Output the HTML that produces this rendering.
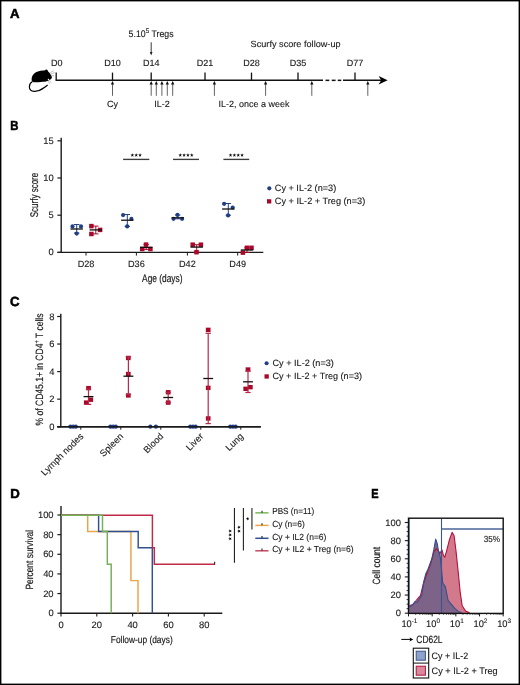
<!DOCTYPE html><html><head><meta charset="utf-8"><style>html,body{margin:0;padding:0;background:#fff;}svg{display:block;will-change:transform;text-rendering:geometricPrecision;}text{font-family:"Liberation Sans",sans-serif;}</style></head><body>
<svg width="520" height="685" viewBox="0 0 520 685">
<rect x="0" y="0" width="520" height="685" fill="#fff"/>
<rect x="0.7" y="0.7" width="518.6" height="683.6" fill="none" stroke="#000" stroke-width="1.4"/>
<text x="10.00" y="18.10" font-size="13.2" text-anchor="start" fill="#000" font-weight="bold" stroke="#000" stroke-width="0.55">A</text>
<text x="10.30" y="130.30" font-size="13.2" text-anchor="start" fill="#000" font-weight="bold" textLength="8.2" lengthAdjust="spacingAndGlyphs" stroke="#000" stroke-width="0.55">B</text>
<text x="10.00" y="306.40" font-size="13.2" text-anchor="start" fill="#000" font-weight="bold" stroke="#000" stroke-width="0.55">C</text>
<text x="10.20" y="498.40" font-size="13.2" text-anchor="start" fill="#000" font-weight="bold" stroke="#000" stroke-width="0.55">D</text>
<text x="371.20" y="498.40" font-size="13.2" text-anchor="start" fill="#000" font-weight="bold" textLength="7.3" lengthAdjust="spacingAndGlyphs" stroke="#000" stroke-width="0.55">E</text>
<path d="M31.7,80.6 C31.3,77.5 32.3,75.2 34.2,73.5 C36.2,71.8 39.2,70.8 43.2,70.6 C44,70.5 44.6,70.4 45,70.2 C45.4,69.6 46.5,69.4 47.3,69.9 C47.9,70.3 48.1,70.9 48.1,71.4 C49.6,72.6 51,74.5 51.8,76.8 C52.2,77.8 51.6,78.8 50.7,79.3 C49.8,79.9 48.6,80.6 47.5,81.1 C45.5,81.8 43.5,81.9 41,82.1 C38.5,82.3 35.5,82.4 33.8,82.3 C32.6,82.2 31.9,81.6 31.7,80.6 Z" fill="#000"/>
<path d="M32.2,81.7 C30.6,82.6 29.4,84.6 29.4,86.9 C29.4,89.3 31.3,91.1 34.2,91.3 C37.8,91.5 41.3,89.9 44.3,87.6 C45.5,86.7 46.6,85.8 47.6,85" fill="none" stroke="#000" stroke-width="1.2"/>
<circle cx="48.5" cy="79.4" r="0.75" fill="#fff"/>
<path d="M50.3,72.6 L53.8,70.6 M50.9,73.8 L54.6,72.6 M51.4,75.6 L54.2,75.8 M49.2,80.6 L51.6,82.9 M48.1,81.2 L49.6,83.6" stroke="#8a8a8a" stroke-width="0.55" fill="none"/>
<line x1="55.60" y1="80.35" x2="323.00" y2="80.35" stroke="#111" stroke-width="1.5" />
<line x1="325.50" y1="80.35" x2="329.30" y2="80.35" stroke="#111" stroke-width="1.5" />
<line x1="331.70" y1="80.35" x2="335.60" y2="80.35" stroke="#111" stroke-width="1.5" />
<line x1="337.70" y1="80.35" x2="341.30" y2="80.35" stroke="#111" stroke-width="1.5" />
<line x1="343.00" y1="80.35" x2="382.00" y2="80.35" stroke="#111" stroke-width="1.5" />
<path d="M387.6,80.35 L378.6,76.1 L381.2,80.35 L378.6,84.6 Z" fill="#000"/>
<line x1="56.20" y1="72.60" x2="56.20" y2="80.30" stroke="#111" stroke-width="1.3" />
<text x="56.80" y="66.30" font-size="9" text-anchor="middle" fill="#1a1a1a" stroke="#1a1a1a" stroke-width="0.12">D0</text>
<line x1="112.50" y1="72.60" x2="112.50" y2="80.30" stroke="#111" stroke-width="1.3" />
<text x="112.50" y="66.30" font-size="9" text-anchor="middle" fill="#1a1a1a" stroke="#1a1a1a" stroke-width="0.12">D10</text>
<line x1="151.20" y1="72.60" x2="151.20" y2="80.30" stroke="#111" stroke-width="1.3" />
<text x="151.20" y="66.30" font-size="9" text-anchor="middle" fill="#1a1a1a" stroke="#1a1a1a" stroke-width="0.12">D14</text>
<line x1="205.00" y1="72.60" x2="205.00" y2="80.30" stroke="#111" stroke-width="1.3" />
<text x="205.00" y="66.30" font-size="9" text-anchor="middle" fill="#1a1a1a" stroke="#1a1a1a" stroke-width="0.12">D21</text>
<line x1="251.50" y1="72.60" x2="251.50" y2="80.30" stroke="#111" stroke-width="1.3" />
<text x="251.50" y="66.30" font-size="9" text-anchor="middle" fill="#1a1a1a" stroke="#1a1a1a" stroke-width="0.12">D28</text>
<line x1="298.00" y1="72.60" x2="298.00" y2="80.30" stroke="#111" stroke-width="1.3" />
<text x="298.00" y="66.30" font-size="9" text-anchor="middle" fill="#1a1a1a" stroke="#1a1a1a" stroke-width="0.12">D35</text>
<line x1="355.00" y1="72.60" x2="355.00" y2="80.30" stroke="#111" stroke-width="1.3" />
<text x="355.00" y="66.30" font-size="9" text-anchor="middle" fill="#1a1a1a" stroke="#1a1a1a" stroke-width="0.12">D77</text>
<line x1="112.50" y1="83.50" x2="112.50" y2="95.80" stroke="#5a5a5a" stroke-width="0.95" />
<path d="M112.5,81.1 L110.85,84.4 L114.15,84.4 Z" fill="#111"/>
<line x1="151.20" y1="83.50" x2="151.20" y2="95.80" stroke="#5a5a5a" stroke-width="0.95" />
<path d="M151.2,81.1 L149.54999999999998,84.4 L152.85,84.4 Z" fill="#111"/>
<line x1="156.30" y1="83.50" x2="156.30" y2="95.80" stroke="#5a5a5a" stroke-width="0.95" />
<path d="M156.3,81.1 L154.65,84.4 L157.95000000000002,84.4 Z" fill="#111"/>
<line x1="161.90" y1="83.50" x2="161.90" y2="95.80" stroke="#5a5a5a" stroke-width="0.95" />
<path d="M161.9,81.1 L160.25,84.4 L163.55,84.4 Z" fill="#111"/>
<line x1="167.30" y1="83.50" x2="167.30" y2="95.80" stroke="#5a5a5a" stroke-width="0.95" />
<path d="M167.3,81.1 L165.65,84.4 L168.95000000000002,84.4 Z" fill="#111"/>
<line x1="172.70" y1="83.50" x2="172.70" y2="95.80" stroke="#5a5a5a" stroke-width="0.95" />
<path d="M172.7,81.1 L171.04999999999998,84.4 L174.35,84.4 Z" fill="#111"/>
<line x1="214.40" y1="83.50" x2="214.40" y2="95.80" stroke="#5a5a5a" stroke-width="0.95" />
<path d="M214.4,81.1 L212.75,84.4 L216.05,84.4 Z" fill="#111"/>
<line x1="265.60" y1="83.50" x2="265.60" y2="95.80" stroke="#5a5a5a" stroke-width="0.95" />
<path d="M265.6,81.1 L263.95000000000005,84.4 L267.25,84.4 Z" fill="#111"/>
<line x1="311.80" y1="83.50" x2="311.80" y2="95.80" stroke="#5a5a5a" stroke-width="0.95" />
<path d="M311.8,81.1 L310.15000000000003,84.4 L313.45,84.4 Z" fill="#111"/>
<line x1="367.80" y1="83.50" x2="367.80" y2="95.80" stroke="#5a5a5a" stroke-width="0.95" />
<path d="M367.8,81.1 L366.15000000000003,84.4 L369.45,84.4 Z" fill="#111"/>
<text x="112.60" y="107.00" font-size="9" text-anchor="middle" fill="#1a1a1a" stroke="#1a1a1a" stroke-width="0.12">Cy</text>
<text x="162.00" y="107.00" font-size="9" text-anchor="middle" fill="#1a1a1a" stroke="#1a1a1a" stroke-width="0.12">IL-2</text>
<text x="218.60" y="107.10" font-size="9" text-anchor="start" fill="#1a1a1a" textLength="70.8" lengthAdjust="spacingAndGlyphs" stroke="#1a1a1a" stroke-width="0.12">IL-2, once a week</text>
<text x="0" y="0" font-size="9.5" fill="#1a1a1a" stroke="#1a1a1a" stroke-width="0.12" transform="translate(128.6 36.5) scale(0.95 1)" textLength="47.3" lengthAdjust="spacingAndGlyphs">5.10<tspan font-size="6.8" dy="-3.9">5</tspan><tspan dy="3.9"> Tregs</tspan></text>
<line x1="151.20" y1="42.30" x2="151.20" y2="54.00" stroke="#222" stroke-width="0.9" />
<path d="M151.2,55.4 L149.9,52 L152.5,52 Z" fill="#222"/>
<text x="250.60" y="46.80" font-size="9" text-anchor="start" fill="#1a1a1a" textLength="90" lengthAdjust="spacingAndGlyphs" stroke="#1a1a1a" stroke-width="0.12">Scurfy score follow-up</text>
<line x1="61.20" y1="137.70" x2="61.20" y2="253.00" stroke="#1a1a1a" stroke-width="1.4" />
<line x1="57.40" y1="252.40" x2="61.20" y2="252.40" stroke="#1a1a1a" stroke-width="1.2" />
<text x="53.80" y="255.40" font-size="9.4" text-anchor="end" fill="#1a1a1a" stroke="#1a1a1a" stroke-width="0.12">0</text>
<line x1="57.40" y1="215.20" x2="61.20" y2="215.20" stroke="#1a1a1a" stroke-width="1.2" />
<text x="53.80" y="218.20" font-size="9.4" text-anchor="end" fill="#1a1a1a" stroke="#1a1a1a" stroke-width="0.12">5</text>
<line x1="57.40" y1="178.00" x2="61.20" y2="178.00" stroke="#1a1a1a" stroke-width="1.2" />
<text x="53.80" y="181.00" font-size="9.4" text-anchor="end" fill="#1a1a1a" stroke="#1a1a1a" stroke-width="0.12">10</text>
<line x1="57.40" y1="140.80" x2="61.20" y2="140.80" stroke="#1a1a1a" stroke-width="1.2" />
<text x="53.80" y="143.80" font-size="9.4" text-anchor="end" fill="#1a1a1a" stroke="#1a1a1a" stroke-width="0.12">15</text>
<line x1="57.40" y1="252.40" x2="263.30" y2="252.40" stroke="#1a1a1a" stroke-width="1.4" />
<line x1="86.00" y1="252.40" x2="86.00" y2="255.60" stroke="#1a1a1a" stroke-width="1.0" />
<text x="86.00" y="267.00" font-size="9.1" text-anchor="middle" fill="#1a1a1a" stroke="#1a1a1a" stroke-width="0.12">D28</text>
<line x1="136.40" y1="252.40" x2="136.40" y2="255.60" stroke="#1a1a1a" stroke-width="1.0" />
<text x="136.40" y="267.00" font-size="9.1" text-anchor="middle" fill="#1a1a1a" stroke="#1a1a1a" stroke-width="0.12">D36</text>
<line x1="187.40" y1="252.40" x2="187.40" y2="255.60" stroke="#1a1a1a" stroke-width="1.0" />
<text x="187.40" y="267.00" font-size="9.1" text-anchor="middle" fill="#1a1a1a" stroke="#1a1a1a" stroke-width="0.12">D42</text>
<line x1="237.70" y1="252.40" x2="237.70" y2="255.60" stroke="#1a1a1a" stroke-width="1.0" />
<text x="237.70" y="267.00" font-size="9.1" text-anchor="middle" fill="#1a1a1a" stroke="#1a1a1a" stroke-width="0.12">D49</text>
<text x="162.30" y="281.90" font-size="11" text-anchor="middle" fill="#1a1a1a" textLength="40.4" lengthAdjust="spacingAndGlyphs" stroke="#1a1a1a" stroke-width="0.18">Age (days)</text>
<text x="37.80" y="195.00" font-size="11" text-anchor="middle" fill="#1a1a1a" textLength="44.4" lengthAdjust="spacingAndGlyphs" transform="rotate(-90 37.8 195)" stroke="#1a1a1a" stroke-width="0.18">Scurfy score</text>
<line x1="123.10" y1="159.40" x2="149.30" y2="159.40" stroke="#3a3a3a" stroke-width="1.35" />
<polygon points="132.35,153.15 132.85,154.41 134.20,154.50 133.16,155.36 133.50,156.68 132.35,155.95 131.20,156.68 131.54,155.36 130.50,154.50 131.85,154.41" fill="#111"/>
<polygon points="136.20,153.15 136.70,154.41 138.05,154.50 137.01,155.36 137.35,156.68 136.20,155.95 135.05,156.68 135.39,155.36 134.35,154.50 135.70,154.41" fill="#111"/>
<polygon points="140.05,153.15 140.55,154.41 141.90,154.50 140.86,155.36 141.20,156.68 140.05,155.95 138.90,156.68 139.24,155.36 138.20,154.50 139.55,154.41" fill="#111"/>
<line x1="173.00" y1="159.40" x2="199.00" y2="159.40" stroke="#3a3a3a" stroke-width="1.35" />
<polygon points="180.22,153.15 180.72,154.41 182.08,154.50 181.03,155.36 181.37,156.68 180.22,155.95 179.08,156.68 179.42,155.36 178.37,154.50 179.73,154.41" fill="#111"/>
<polygon points="184.07,153.15 184.57,154.41 185.93,154.50 184.88,155.36 185.22,156.68 184.07,155.95 182.93,156.68 183.27,155.36 182.22,154.50 183.58,154.41" fill="#111"/>
<polygon points="187.93,153.15 188.42,154.41 189.78,154.50 188.73,155.36 189.07,156.68 187.93,155.95 186.78,156.68 187.12,155.36 186.07,154.50 187.43,154.41" fill="#111"/>
<polygon points="191.78,153.15 192.27,154.41 193.63,154.50 192.58,155.36 192.92,156.68 191.78,155.95 190.63,156.68 190.97,155.36 189.92,154.50 191.28,154.41" fill="#111"/>
<line x1="223.40" y1="159.40" x2="249.20" y2="159.40" stroke="#3a3a3a" stroke-width="1.35" />
<polygon points="230.53,153.15 231.02,154.41 232.38,154.50 231.33,155.36 231.67,156.68 230.53,155.95 229.38,156.68 229.72,155.36 228.67,154.50 230.03,154.41" fill="#111"/>
<polygon points="234.38,153.15 234.87,154.41 236.23,154.50 235.18,155.36 235.52,156.68 234.38,155.95 233.23,156.68 233.57,155.36 232.52,154.50 233.88,154.41" fill="#111"/>
<polygon points="238.23,153.15 238.72,154.41 240.08,154.50 239.03,155.36 239.37,156.68 238.23,155.95 237.08,156.68 237.42,155.36 236.37,154.50 237.73,154.41" fill="#111"/>
<polygon points="242.08,153.15 242.57,154.41 243.93,154.50 242.88,155.36 243.22,156.68 242.08,155.95 240.93,156.68 241.27,155.36 240.22,154.50 241.58,154.41" fill="#111"/>
<circle cx="72.50" cy="226.40" r="2.1" fill="#213f86"/>
<circle cx="81.00" cy="226.40" r="2.1" fill="#213f86"/>
<circle cx="76.70" cy="233.60" r="2.1" fill="#213f86"/>
<rect x="89.15" y="223.85" width="4.5" height="4.5" fill="#a8082a"/>
<rect x="89.15" y="231.75" width="4.5" height="4.5" fill="#a8082a"/>
<rect x="97.85" y="227.65" width="4.5" height="4.5" fill="#a8082a"/>
<circle cx="123.10" cy="215.10" r="2.1" fill="#213f86"/>
<circle cx="131.40" cy="218.90" r="2.1" fill="#213f86"/>
<circle cx="127.20" cy="226.40" r="2.1" fill="#213f86"/>
<rect x="143.75" y="242.35" width="4.5" height="4.5" fill="#a8082a"/>
<rect x="139.95" y="246.75" width="4.5" height="4.5" fill="#a8082a"/>
<rect x="148.15" y="246.75" width="4.5" height="4.5" fill="#a8082a"/>
<circle cx="173.50" cy="218.80" r="2.1" fill="#213f86"/>
<circle cx="182.10" cy="218.80" r="2.1" fill="#213f86"/>
<circle cx="177.50" cy="214.90" r="2.1" fill="#213f86"/>
<rect x="190.45" y="242.45" width="4.5" height="4.5" fill="#a8082a"/>
<rect x="198.65" y="242.45" width="4.5" height="4.5" fill="#a8082a"/>
<rect x="194.25" y="249.95" width="4.5" height="4.5" fill="#a8082a"/>
<circle cx="224.10" cy="203.80" r="2.1" fill="#213f86"/>
<circle cx="232.70" cy="207.50" r="2.1" fill="#213f86"/>
<circle cx="228.10" cy="215.40" r="2.1" fill="#213f86"/>
<rect x="240.65" y="250.35" width="4.5" height="4.5" fill="#a8082a"/>
<rect x="244.65" y="245.55" width="4.5" height="4.5" fill="#a8082a"/>
<rect x="249.25" y="245.55" width="4.5" height="4.5" fill="#a8082a"/>
<line x1="76.70" y1="224.50" x2="76.70" y2="233.00" stroke="#213f86" stroke-width="1.0" />
<line x1="74.00" y1="224.50" x2="79.40" y2="224.50" stroke="#213f86" stroke-width="1.0" />
<line x1="74.00" y1="233.00" x2="79.40" y2="233.00" stroke="#213f86" stroke-width="1.0" />
<line x1="70.50" y1="229.00" x2="82.90" y2="229.00" stroke="#111" stroke-width="1.3" />
<line x1="95.80" y1="226.10" x2="95.80" y2="233.90" stroke="#a8082a" stroke-width="1.0" />
<line x1="93.10" y1="226.10" x2="98.50" y2="226.10" stroke="#a8082a" stroke-width="1.0" />
<line x1="93.10" y1="233.90" x2="98.50" y2="233.90" stroke="#a8082a" stroke-width="1.0" />
<line x1="89.60" y1="229.90" x2="102.00" y2="229.90" stroke="#111" stroke-width="1.3" />
<line x1="127.30" y1="214.50" x2="127.30" y2="226.30" stroke="#213f86" stroke-width="1.0" />
<line x1="124.60" y1="214.50" x2="130.00" y2="214.50" stroke="#213f86" stroke-width="1.0" />
<line x1="124.60" y1="226.30" x2="130.00" y2="226.30" stroke="#213f86" stroke-width="1.0" />
<line x1="121.10" y1="220.20" x2="133.50" y2="220.20" stroke="#111" stroke-width="1.3" />
<line x1="146.20" y1="244.60" x2="146.20" y2="249.40" stroke="#a8082a" stroke-width="1.0" />
<line x1="143.50" y1="244.60" x2="148.90" y2="244.60" stroke="#a8082a" stroke-width="1.0" />
<line x1="143.50" y1="249.40" x2="148.90" y2="249.40" stroke="#a8082a" stroke-width="1.0" />
<line x1="140.00" y1="247.40" x2="152.40" y2="247.40" stroke="#111" stroke-width="1.3" />
<line x1="177.70" y1="215.00" x2="177.70" y2="218.80" stroke="#213f86" stroke-width="1.0" />
<line x1="175.00" y1="215.00" x2="180.40" y2="215.00" stroke="#213f86" stroke-width="1.0" />
<line x1="175.00" y1="218.80" x2="180.40" y2="218.80" stroke="#213f86" stroke-width="1.0" />
<line x1="171.50" y1="217.80" x2="183.90" y2="217.80" stroke="#111" stroke-width="1.3" />
<line x1="196.70" y1="244.70" x2="196.70" y2="252.00" stroke="#a8082a" stroke-width="1.0" />
<line x1="194.00" y1="244.70" x2="199.40" y2="244.70" stroke="#a8082a" stroke-width="1.0" />
<line x1="194.00" y1="252.00" x2="199.40" y2="252.00" stroke="#a8082a" stroke-width="1.0" />
<line x1="190.50" y1="247.10" x2="202.90" y2="247.10" stroke="#111" stroke-width="1.3" />
<line x1="228.30" y1="203.50" x2="228.30" y2="215.20" stroke="#213f86" stroke-width="1.0" />
<line x1="225.60" y1="203.50" x2="231.00" y2="203.50" stroke="#213f86" stroke-width="1.0" />
<line x1="225.60" y1="215.20" x2="231.00" y2="215.20" stroke="#213f86" stroke-width="1.0" />
<line x1="222.10" y1="209.00" x2="234.50" y2="209.00" stroke="#111" stroke-width="1.3" />
<line x1="247.00" y1="247.80" x2="247.00" y2="252.40" stroke="#a8082a" stroke-width="1.0" />
<line x1="244.30" y1="247.80" x2="249.70" y2="247.80" stroke="#a8082a" stroke-width="1.0" />
<line x1="244.30" y1="252.40" x2="249.70" y2="252.40" stroke="#a8082a" stroke-width="1.0" />
<line x1="240.80" y1="250.00" x2="253.20" y2="250.00" stroke="#111" stroke-width="1.3" />
<circle cx="269.30" cy="188.35" r="2.05" fill="#213f86"/>
<text x="274.80" y="190.90" font-size="9.1" text-anchor="start" fill="#1a1a1a" textLength="61.4" lengthAdjust="spacingAndGlyphs" stroke="#1a1a1a" stroke-width="0.12">Cy + IL-2 (n=3)</text>
<rect x="267.00" y="199.20" width="4.3" height="4.3" fill="#a8082a"/>
<text x="274.80" y="204.10" font-size="9.1" text-anchor="start" fill="#1a1a1a" textLength="90.4" lengthAdjust="spacingAndGlyphs" stroke="#1a1a1a" stroke-width="0.12">Cy + IL-2 + Treg (n=3)</text>
<line x1="60.80" y1="313.70" x2="60.80" y2="427.30" stroke="#1a1a1a" stroke-width="1.4" />
<line x1="57.20" y1="426.70" x2="60.80" y2="426.70" stroke="#1a1a1a" stroke-width="1.2" />
<text x="54.40" y="429.70" font-size="9.4" text-anchor="end" fill="#1a1a1a" stroke="#1a1a1a" stroke-width="0.12">0</text>
<line x1="57.20" y1="399.15" x2="60.80" y2="399.15" stroke="#1a1a1a" stroke-width="1.2" />
<text x="54.40" y="402.15" font-size="9.4" text-anchor="end" fill="#1a1a1a" stroke="#1a1a1a" stroke-width="0.12">2</text>
<line x1="57.20" y1="371.60" x2="60.80" y2="371.60" stroke="#1a1a1a" stroke-width="1.2" />
<text x="54.40" y="374.60" font-size="9.4" text-anchor="end" fill="#1a1a1a" stroke="#1a1a1a" stroke-width="0.12">4</text>
<line x1="57.20" y1="344.05" x2="60.80" y2="344.05" stroke="#1a1a1a" stroke-width="1.2" />
<text x="54.40" y="347.05" font-size="9.4" text-anchor="end" fill="#1a1a1a" stroke="#1a1a1a" stroke-width="0.12">6</text>
<line x1="57.20" y1="316.50" x2="60.80" y2="316.50" stroke="#1a1a1a" stroke-width="1.2" />
<text x="54.40" y="319.50" font-size="9.4" text-anchor="end" fill="#1a1a1a" stroke="#1a1a1a" stroke-width="0.12">8</text>
<line x1="57.20" y1="426.70" x2="260.80" y2="426.70" stroke="#1a1a1a" stroke-width="1.4" />
<line x1="80.80" y1="426.70" x2="80.80" y2="429.70" stroke="#1a1a1a" stroke-width="1.0" />
<text x="84.00" y="436.90" font-size="9.3" text-anchor="end" fill="#1a1a1a" transform="rotate(-45 84.0 436.9)" stroke="#1a1a1a" stroke-width="0.12">Lymph nodes</text>
<line x1="120.80" y1="426.70" x2="120.80" y2="429.70" stroke="#1a1a1a" stroke-width="1.0" />
<text x="124.00" y="436.90" font-size="9.3" text-anchor="end" fill="#1a1a1a" transform="rotate(-45 124.0 436.9)" stroke="#1a1a1a" stroke-width="0.12">Spleen</text>
<line x1="160.80" y1="426.70" x2="160.80" y2="429.70" stroke="#1a1a1a" stroke-width="1.0" />
<text x="164.00" y="436.90" font-size="9.3" text-anchor="end" fill="#1a1a1a" transform="rotate(-45 164.0 436.9)" stroke="#1a1a1a" stroke-width="0.12">Blood</text>
<line x1="200.80" y1="426.70" x2="200.80" y2="429.70" stroke="#1a1a1a" stroke-width="1.0" />
<text x="204.00" y="436.90" font-size="9.3" text-anchor="end" fill="#1a1a1a" transform="rotate(-45 204.0 436.9)" stroke="#1a1a1a" stroke-width="0.12">Liver</text>
<line x1="240.80" y1="426.70" x2="240.80" y2="429.70" stroke="#1a1a1a" stroke-width="1.0" />
<text x="244.00" y="436.90" font-size="9.3" text-anchor="end" fill="#1a1a1a" transform="rotate(-45 244.0 436.9)" stroke="#1a1a1a" stroke-width="0.12">Lung</text>
<text x="0" y="0" font-size="10.6" fill="#1a1a1a" stroke="#1a1a1a" stroke-width="0.18" text-anchor="middle" transform="translate(42.8 369.5) rotate(-90)" textLength="112" lengthAdjust="spacingAndGlyphs">% of CD45.1+ in CD4<tspan font-size="7" dy="-3.5">+</tspan><tspan dy="3.5"> T cells</tspan></text>
<circle cx="70.40" cy="426.70" r="2.1" fill="#213f86"/>
<circle cx="73.10" cy="426.70" r="2.1" fill="#213f86"/>
<circle cx="75.80" cy="426.70" r="2.1" fill="#213f86"/>
<circle cx="110.40" cy="426.70" r="2.1" fill="#213f86"/>
<circle cx="113.10" cy="426.70" r="2.1" fill="#213f86"/>
<circle cx="115.80" cy="426.70" r="2.1" fill="#213f86"/>
<circle cx="190.20" cy="426.70" r="2.1" fill="#213f86"/>
<circle cx="192.90" cy="426.70" r="2.1" fill="#213f86"/>
<circle cx="195.60" cy="426.70" r="2.1" fill="#213f86"/>
<circle cx="230.20" cy="426.70" r="2.1" fill="#213f86"/>
<circle cx="232.90" cy="426.70" r="2.1" fill="#213f86"/>
<circle cx="235.60" cy="426.70" r="2.1" fill="#213f86"/>
<circle cx="150.30" cy="426.70" r="2.1" fill="#213f86"/>
<circle cx="155.90" cy="426.70" r="2.1" fill="#213f86"/>
<line x1="57.20" y1="426.70" x2="260.80" y2="426.70" stroke="#1a1a1a" stroke-width="1.4" />
<rect x="86.20" y="385.93" width="4.7" height="4.4" fill="#a8082a"/>
<rect x="88.40" y="397.50" width="4.7" height="4.4" fill="#a8082a"/>
<rect x="83.90" y="400.39" width="4.7" height="4.4" fill="#a8082a"/>
<rect x="125.95" y="355.76" width="4.7" height="4.4" fill="#a8082a"/>
<rect x="125.95" y="371.88" width="4.7" height="4.4" fill="#a8082a"/>
<rect x="125.95" y="393.23" width="4.7" height="4.4" fill="#a8082a"/>
<rect x="165.85" y="390.06" width="4.7" height="4.4" fill="#a8082a"/>
<rect x="165.85" y="400.39" width="4.7" height="4.4" fill="#a8082a"/>
<rect x="205.85" y="327.66" width="4.7" height="4.4" fill="#a8082a"/>
<rect x="205.85" y="385.65" width="4.7" height="4.4" fill="#a8082a"/>
<rect x="205.85" y="416.24" width="4.7" height="4.4" fill="#a8082a"/>
<rect x="245.65" y="367.33" width="4.7" height="4.4" fill="#a8082a"/>
<rect x="248.00" y="384.97" width="4.7" height="4.4" fill="#a8082a"/>
<rect x="243.35" y="386.62" width="4.7" height="4.4" fill="#a8082a"/>
<line x1="88.50" y1="389.23" x2="88.50" y2="404.38" stroke="#b9294a" stroke-width="1.2" />
<line x1="85.80" y1="389.23" x2="91.20" y2="389.23" stroke="#b9294a" stroke-width="1.2" />
<line x1="85.80" y1="404.38" x2="91.20" y2="404.38" stroke="#b9294a" stroke-width="1.2" />
<line x1="83.55" y1="396.60" x2="93.45" y2="396.60" stroke="#111" stroke-width="1.3" />
<line x1="128.40" y1="356.86" x2="128.40" y2="394.60" stroke="#b9294a" stroke-width="1.2" />
<line x1="125.70" y1="356.86" x2="131.10" y2="356.86" stroke="#b9294a" stroke-width="1.2" />
<line x1="125.70" y1="394.60" x2="131.10" y2="394.60" stroke="#b9294a" stroke-width="1.2" />
<line x1="123.45" y1="376.20" x2="133.35" y2="376.20" stroke="#111" stroke-width="1.3" />
<line x1="168.20" y1="392.26" x2="168.20" y2="402.59" stroke="#b9294a" stroke-width="1.2" />
<line x1="165.50" y1="392.26" x2="170.90" y2="392.26" stroke="#b9294a" stroke-width="1.2" />
<line x1="165.50" y1="402.59" x2="170.90" y2="402.59" stroke="#b9294a" stroke-width="1.2" />
<line x1="163.25" y1="397.50" x2="173.15" y2="397.50" stroke="#111" stroke-width="1.3" />
<line x1="208.20" y1="333.31" x2="208.20" y2="423.60" stroke="#b9294a" stroke-width="1.2" />
<line x1="205.50" y1="333.31" x2="210.90" y2="333.31" stroke="#b9294a" stroke-width="1.2" />
<line x1="205.50" y1="423.60" x2="210.90" y2="423.60" stroke="#b9294a" stroke-width="1.2" />
<line x1="203.25" y1="378.50" x2="213.15" y2="378.50" stroke="#111" stroke-width="1.3" />
<line x1="248.00" y1="370.91" x2="248.00" y2="392.50" stroke="#b9294a" stroke-width="1.2" />
<line x1="245.30" y1="370.91" x2="250.70" y2="370.91" stroke="#b9294a" stroke-width="1.2" />
<line x1="245.30" y1="392.50" x2="250.70" y2="392.50" stroke="#b9294a" stroke-width="1.2" />
<line x1="243.05" y1="381.80" x2="252.95" y2="381.80" stroke="#111" stroke-width="1.3" />
<circle cx="266.60" cy="363.30" r="2.05" fill="#213f86"/>
<text x="272.50" y="366.10" font-size="9.1" text-anchor="start" fill="#1a1a1a" textLength="61.4" lengthAdjust="spacingAndGlyphs" stroke="#1a1a1a" stroke-width="0.12">Cy + IL-2 (n=3)</text>
<rect x="264.50" y="374.30" width="4.3" height="4.3" fill="#a8082a"/>
<text x="272.50" y="379.40" font-size="9.1" text-anchor="start" fill="#1a1a1a" textLength="89.5" lengthAdjust="spacingAndGlyphs" stroke="#1a1a1a" stroke-width="0.12">Cy + IL-2 + Treg (n=3)</text>
<line x1="61.00" y1="506.00" x2="61.00" y2="613.80" stroke="#1a1a1a" stroke-width="1.4" />
<line x1="57.40" y1="613.20" x2="61.00" y2="613.20" stroke="#1a1a1a" stroke-width="1.2" />
<text x="53.60" y="616.20" font-size="9.4" text-anchor="end" fill="#1a1a1a" stroke="#1a1a1a" stroke-width="0.12">0</text>
<line x1="57.40" y1="593.56" x2="61.00" y2="593.56" stroke="#1a1a1a" stroke-width="1.2" />
<text x="53.60" y="596.56" font-size="9.4" text-anchor="end" fill="#1a1a1a" stroke="#1a1a1a" stroke-width="0.12">20</text>
<line x1="57.40" y1="573.92" x2="61.00" y2="573.92" stroke="#1a1a1a" stroke-width="1.2" />
<text x="53.60" y="576.92" font-size="9.4" text-anchor="end" fill="#1a1a1a" stroke="#1a1a1a" stroke-width="0.12">40</text>
<line x1="57.40" y1="554.28" x2="61.00" y2="554.28" stroke="#1a1a1a" stroke-width="1.2" />
<text x="53.60" y="557.28" font-size="9.4" text-anchor="end" fill="#1a1a1a" stroke="#1a1a1a" stroke-width="0.12">60</text>
<line x1="57.40" y1="534.64" x2="61.00" y2="534.64" stroke="#1a1a1a" stroke-width="1.2" />
<text x="53.60" y="537.64" font-size="9.4" text-anchor="end" fill="#1a1a1a" stroke="#1a1a1a" stroke-width="0.12">80</text>
<line x1="57.40" y1="515.00" x2="61.00" y2="515.00" stroke="#1a1a1a" stroke-width="1.2" />
<text x="53.60" y="518.00" font-size="9.4" text-anchor="end" fill="#1a1a1a" stroke="#1a1a1a" stroke-width="0.12">100</text>
<line x1="60.40" y1="613.20" x2="222.30" y2="613.20" stroke="#1a1a1a" stroke-width="1.4" />
<line x1="61.00" y1="613.20" x2="61.00" y2="616.40" stroke="#1a1a1a" stroke-width="1.1" />
<text x="61.00" y="627.70" font-size="9.4" text-anchor="middle" fill="#1a1a1a" stroke="#1a1a1a" stroke-width="0.12">0</text>
<line x1="96.80" y1="613.20" x2="96.80" y2="616.40" stroke="#1a1a1a" stroke-width="1.1" />
<text x="96.80" y="627.70" font-size="9.4" text-anchor="middle" fill="#1a1a1a" stroke="#1a1a1a" stroke-width="0.12">20</text>
<line x1="132.60" y1="613.20" x2="132.60" y2="616.40" stroke="#1a1a1a" stroke-width="1.1" />
<text x="132.60" y="627.70" font-size="9.4" text-anchor="middle" fill="#1a1a1a" stroke="#1a1a1a" stroke-width="0.12">40</text>
<line x1="168.40" y1="613.20" x2="168.40" y2="616.40" stroke="#1a1a1a" stroke-width="1.1" />
<text x="168.40" y="627.70" font-size="9.4" text-anchor="middle" fill="#1a1a1a" stroke="#1a1a1a" stroke-width="0.12">60</text>
<line x1="204.20" y1="613.20" x2="204.20" y2="616.40" stroke="#1a1a1a" stroke-width="1.1" />
<text x="204.20" y="627.70" font-size="9.4" text-anchor="middle" fill="#1a1a1a" stroke="#1a1a1a" stroke-width="0.12">80</text>
<text x="141.75" y="642.60" font-size="10" text-anchor="middle" fill="#1a1a1a" textLength="61.9" lengthAdjust="spacingAndGlyphs" stroke="#1a1a1a" stroke-width="0.18">Follow-up (days)</text>
<text x="33.00" y="559.70" font-size="10.5" text-anchor="middle" fill="#1a1a1a" textLength="59.7" lengthAdjust="spacingAndGlyphs" transform="rotate(-90 33.0 559.7)" stroke="#1a1a1a" stroke-width="0.18">Percent survival</text>
<path d="M61.00,515.30 L87.70,515.30 L87.70,531.50 L130.90,531.50 L130.90,580.60 L138.00,580.60 L138.00,613.20" fill="none" stroke="#e9a548" stroke-width="1.45"/>
<path d="M61.00,515.30 L98.60,515.30 L98.60,531.50 L138.20,531.50 L138.20,547.80 L152.30,547.80 L152.30,613.20" fill="none" stroke="#30508f" stroke-width="1.45"/>
<path d="M61.00,515.30 L152.40,515.30 L152.40,547.80 L154.30,547.80 L154.30,564.20 L214.70,564.20" fill="none" stroke="#c02a48" stroke-width="1.45"/>
<path d="M61.00,515.30 L102.50,515.30 L102.50,531.50 L107.30,531.50 L107.30,564.20 L111.20,564.20 L111.20,613.20" fill="none" stroke="#72b253" stroke-width="1.45"/>
<line x1="214.70" y1="564.70" x2="214.70" y2="561.70" stroke="#111" stroke-width="1.0" />
<line x1="234.45" y1="508.10" x2="234.45" y2="562.70" stroke="#222" stroke-width="1.1" />
<line x1="243.40" y1="508.10" x2="243.40" y2="550.50" stroke="#222" stroke-width="1.1" />
<line x1="251.90" y1="508.10" x2="251.90" y2="529.50" stroke="#777" stroke-width="1.8" />
<polygon points="228.30,531.00 229.41,530.50 229.54,529.29 230.36,530.19 231.56,529.94 230.95,531.00 231.56,532.06 230.36,531.81 229.54,532.71 229.41,531.50" fill="#111"/>
<polygon points="228.30,534.90 229.41,534.40 229.54,533.19 230.36,534.09 231.56,533.84 230.95,534.90 231.56,535.96 230.36,535.71 229.54,536.61 229.41,535.40" fill="#111"/>
<polygon points="228.30,538.70 229.41,538.20 229.54,536.99 230.36,537.89 231.56,537.64 230.95,538.70 231.56,539.76 230.36,539.51 229.54,540.41 229.41,539.20" fill="#111"/>
<polygon points="237.20,527.30 238.31,526.80 238.44,525.59 239.26,526.49 240.46,526.24 239.85,527.30 240.46,528.36 239.26,528.11 238.44,529.01 238.31,527.80" fill="#111"/>
<polygon points="237.20,531.10 238.31,530.60 238.44,529.39 239.26,530.29 240.46,530.04 239.85,531.10 240.46,532.16 239.26,531.91 238.44,532.81 238.31,531.60" fill="#111"/>
<polygon points="245.80,518.80 246.91,518.30 247.04,517.09 247.86,517.99 249.06,517.74 248.45,518.80 249.06,519.86 247.86,519.61 247.04,520.51 246.91,519.30" fill="#111"/>
<line x1="255.30" y1="512.85" x2="268.50" y2="512.85" stroke="#79b95a" stroke-width="1.5" />
<line x1="262.00" y1="510.65" x2="262.00" y2="512.65" stroke="#222" stroke-width="1.1" />
<text x="272.20" y="514.45" font-size="8.8" text-anchor="start" fill="#1a1a1a" textLength="42" lengthAdjust="spacingAndGlyphs" stroke="#1a1a1a" stroke-width="0.12">PBS (n=11)</text>
<line x1="255.30" y1="525.40" x2="268.50" y2="525.40" stroke="#eca647" stroke-width="1.5" />
<line x1="262.00" y1="523.20" x2="262.00" y2="525.20" stroke="#222" stroke-width="1.1" />
<text x="272.20" y="527.00" font-size="8.8" text-anchor="start" fill="#1a1a1a" textLength="32.5" lengthAdjust="spacingAndGlyphs" stroke="#1a1a1a" stroke-width="0.12">Cy (n=6)</text>
<line x1="255.30" y1="538.30" x2="268.50" y2="538.30" stroke="#2f4f93" stroke-width="1.5" />
<line x1="262.00" y1="536.10" x2="262.00" y2="538.10" stroke="#222" stroke-width="1.1" />
<text x="272.20" y="539.90" font-size="8.8" text-anchor="start" fill="#1a1a1a" textLength="54.2" lengthAdjust="spacingAndGlyphs" stroke="#1a1a1a" stroke-width="0.12">Cy + IL2 (n=6)</text>
<line x1="255.30" y1="550.80" x2="268.50" y2="550.80" stroke="#c9475f" stroke-width="1.5" />
<line x1="262.00" y1="548.60" x2="262.00" y2="550.60" stroke="#222" stroke-width="1.1" />
<text x="272.20" y="552.40" font-size="8.8" text-anchor="start" fill="#1a1a1a" textLength="81.5" lengthAdjust="spacingAndGlyphs" stroke="#1a1a1a" stroke-width="0.12">Cy + IL2 + Treg (n=6)</text>
<path d="M408.7,613.2 L409,605.8 L413.1,604.4 L415.8,601 L418.5,597.7 L420.5,595.7 L423.2,584.2 L426.5,574.8 L430.6,564 L433.9,551.9 L436.6,548.6 L438.6,551.2 L440,553.3 L442,549.9 L443.4,555.3 L444.7,557.3 L446.7,550.6 L449.4,539.8 L452.1,532.4 L454.1,535.8 L456.1,551.9 L458.2,572.1 L460.2,592.3 L462.2,605.8 L465.6,611.1 L469.6,612.8 L469.6,613.2 Z" fill="#d27a8c"/>
<path d="M408.7,613.2 L409,607.1 L411.7,605.8 L415.1,601.7 L417.1,602.4 L419.8,598.4 L421.8,595 L423.8,581.5 L425.9,573.5 L427.9,569.4 L429.9,564 L431.9,558.6 L433.9,549.2 L435.7,539.1 L437.3,543.8 L438.4,550.6 L440.3,557.3 L441.3,566.7 L442.7,582.9 L445.4,586.9 L448.1,600.4 L451.4,604.4 L454.8,608.4 L458.8,611.8 L461.5,612.5 L461.5,613.2 Z" fill="#7c6387"/>
<path d="M409,605.8 L413.1,604.4 L415.8,601 L418.5,597.7 L420.5,595.7 L423.2,584.2 L426.5,574.8 L430.6,564 L433.9,551.9 L436.6,548.6 L438.6,551.2 L440,553.3 L442,549.9 L443.4,555.3 L444.7,557.3 L446.7,550.6 L449.4,539.8 L452.1,532.4 L454.1,535.8 L456.1,551.9 L458.2,572.1 L460.2,592.3 L462.2,605.8 L465.6,611.1 L469.6,612.8" fill="none" stroke="#b3123a" stroke-width="1.1" stroke-linejoin="round"/>
<path d="M409,607.1 L411.7,605.8 L415.1,601.7 L417.1,602.4 L419.8,598.4 L421.8,595 L423.8,581.5 L425.9,573.5 L427.9,569.4 L429.9,564 L431.9,558.6 L433.9,549.2 L435.7,539.1 L437.3,543.8 L438.4,550.6 L440.3,557.3 L441.3,566.7 L442.7,582.9 L445.4,586.9 L448.1,600.4 L451.4,604.4 L454.8,608.4 L458.8,611.8 L461.5,612.5" fill="none" stroke="#34508f" stroke-width="1.1" stroke-linejoin="round"/>
<line x1="441.50" y1="518.20" x2="441.50" y2="613.40" stroke="#3a5591" stroke-width="1.1" />
<line x1="441.50" y1="529.00" x2="503.20" y2="529.00" stroke="#4a6399" stroke-width="1.5" />
<line x1="409.30" y1="519.00" x2="409.30" y2="606.00" stroke="#3a5591" stroke-width="0.8" />
<text x="483.70" y="542.00" font-size="8.8" text-anchor="start" fill="#1a1a1a" textLength="16.3" lengthAdjust="spacingAndGlyphs" stroke="#1a1a1a" stroke-width="0.12">35%</text>
<rect x="408.5" y="518.2" width="94.70" height="95.20" fill="none" stroke="#111" stroke-width="1.4"/>
<line x1="404.80" y1="613.20" x2="408.50" y2="613.20" stroke="#1a1a1a" stroke-width="1.1" />
<text x="401.00" y="616.20" font-size="9.4" text-anchor="end" fill="#1a1a1a" stroke="#1a1a1a" stroke-width="0.12">0</text>
<line x1="404.80" y1="595.06" x2="408.50" y2="595.06" stroke="#1a1a1a" stroke-width="1.1" />
<text x="401.00" y="598.06" font-size="9.4" text-anchor="end" fill="#1a1a1a" stroke="#1a1a1a" stroke-width="0.12">20</text>
<line x1="404.80" y1="576.92" x2="408.50" y2="576.92" stroke="#1a1a1a" stroke-width="1.1" />
<text x="401.00" y="579.92" font-size="9.4" text-anchor="end" fill="#1a1a1a" stroke="#1a1a1a" stroke-width="0.12">40</text>
<line x1="404.80" y1="558.78" x2="408.50" y2="558.78" stroke="#1a1a1a" stroke-width="1.1" />
<text x="401.00" y="561.78" font-size="9.4" text-anchor="end" fill="#1a1a1a" stroke="#1a1a1a" stroke-width="0.12">60</text>
<line x1="404.80" y1="540.64" x2="408.50" y2="540.64" stroke="#1a1a1a" stroke-width="1.1" />
<text x="401.00" y="543.64" font-size="9.4" text-anchor="end" fill="#1a1a1a" stroke="#1a1a1a" stroke-width="0.12">80</text>
<line x1="404.80" y1="522.50" x2="408.50" y2="522.50" stroke="#1a1a1a" stroke-width="1.1" />
<text x="401.00" y="525.50" font-size="9.4" text-anchor="end" fill="#1a1a1a" stroke="#1a1a1a" stroke-width="0.12">100</text>
<line x1="406.60" y1="608.67" x2="408.50" y2="608.67" stroke="#1a1a1a" stroke-width="0.9" />
<line x1="406.60" y1="604.13" x2="408.50" y2="604.13" stroke="#1a1a1a" stroke-width="0.9" />
<line x1="406.60" y1="599.60" x2="408.50" y2="599.60" stroke="#1a1a1a" stroke-width="0.9" />
<line x1="406.60" y1="590.53" x2="408.50" y2="590.53" stroke="#1a1a1a" stroke-width="0.9" />
<line x1="406.60" y1="585.99" x2="408.50" y2="585.99" stroke="#1a1a1a" stroke-width="0.9" />
<line x1="406.60" y1="581.46" x2="408.50" y2="581.46" stroke="#1a1a1a" stroke-width="0.9" />
<line x1="406.60" y1="572.38" x2="408.50" y2="572.38" stroke="#1a1a1a" stroke-width="0.9" />
<line x1="406.60" y1="567.85" x2="408.50" y2="567.85" stroke="#1a1a1a" stroke-width="0.9" />
<line x1="406.60" y1="563.32" x2="408.50" y2="563.32" stroke="#1a1a1a" stroke-width="0.9" />
<line x1="406.60" y1="554.25" x2="408.50" y2="554.25" stroke="#1a1a1a" stroke-width="0.9" />
<line x1="406.60" y1="549.71" x2="408.50" y2="549.71" stroke="#1a1a1a" stroke-width="0.9" />
<line x1="406.60" y1="545.17" x2="408.50" y2="545.17" stroke="#1a1a1a" stroke-width="0.9" />
<line x1="406.60" y1="536.11" x2="408.50" y2="536.11" stroke="#1a1a1a" stroke-width="0.9" />
<line x1="406.60" y1="531.57" x2="408.50" y2="531.57" stroke="#1a1a1a" stroke-width="0.9" />
<line x1="406.60" y1="527.03" x2="408.50" y2="527.03" stroke="#1a1a1a" stroke-width="0.9" />
<line x1="415.63" y1="613.40" x2="415.63" y2="615.00" stroke="#1a1a1a" stroke-width="0.6" />
<line x1="419.80" y1="613.40" x2="419.80" y2="615.00" stroke="#1a1a1a" stroke-width="0.6" />
<line x1="422.75" y1="613.40" x2="422.75" y2="615.00" stroke="#1a1a1a" stroke-width="0.6" />
<line x1="425.05" y1="613.40" x2="425.05" y2="615.00" stroke="#1a1a1a" stroke-width="0.6" />
<line x1="426.92" y1="613.40" x2="426.92" y2="615.00" stroke="#1a1a1a" stroke-width="0.6" />
<line x1="428.51" y1="613.40" x2="428.51" y2="615.00" stroke="#1a1a1a" stroke-width="0.6" />
<line x1="429.88" y1="613.40" x2="429.88" y2="615.00" stroke="#1a1a1a" stroke-width="0.6" />
<line x1="431.09" y1="613.40" x2="431.09" y2="615.00" stroke="#1a1a1a" stroke-width="0.6" />
<line x1="439.30" y1="613.40" x2="439.30" y2="615.00" stroke="#1a1a1a" stroke-width="0.6" />
<line x1="443.47" y1="613.40" x2="443.47" y2="615.00" stroke="#1a1a1a" stroke-width="0.6" />
<line x1="446.43" y1="613.40" x2="446.43" y2="615.00" stroke="#1a1a1a" stroke-width="0.6" />
<line x1="448.72" y1="613.40" x2="448.72" y2="615.00" stroke="#1a1a1a" stroke-width="0.6" />
<line x1="450.60" y1="613.40" x2="450.60" y2="615.00" stroke="#1a1a1a" stroke-width="0.6" />
<line x1="452.18" y1="613.40" x2="452.18" y2="615.00" stroke="#1a1a1a" stroke-width="0.6" />
<line x1="453.56" y1="613.40" x2="453.56" y2="615.00" stroke="#1a1a1a" stroke-width="0.6" />
<line x1="454.77" y1="613.40" x2="454.77" y2="615.00" stroke="#1a1a1a" stroke-width="0.6" />
<line x1="462.98" y1="613.40" x2="462.98" y2="615.00" stroke="#1a1a1a" stroke-width="0.6" />
<line x1="467.15" y1="613.40" x2="467.15" y2="615.00" stroke="#1a1a1a" stroke-width="0.6" />
<line x1="470.10" y1="613.40" x2="470.10" y2="615.00" stroke="#1a1a1a" stroke-width="0.6" />
<line x1="472.40" y1="613.40" x2="472.40" y2="615.00" stroke="#1a1a1a" stroke-width="0.6" />
<line x1="474.27" y1="613.40" x2="474.27" y2="615.00" stroke="#1a1a1a" stroke-width="0.6" />
<line x1="475.86" y1="613.40" x2="475.86" y2="615.00" stroke="#1a1a1a" stroke-width="0.6" />
<line x1="477.23" y1="613.40" x2="477.23" y2="615.00" stroke="#1a1a1a" stroke-width="0.6" />
<line x1="478.44" y1="613.40" x2="478.44" y2="615.00" stroke="#1a1a1a" stroke-width="0.6" />
<line x1="486.65" y1="613.40" x2="486.65" y2="615.00" stroke="#1a1a1a" stroke-width="0.6" />
<line x1="490.82" y1="613.40" x2="490.82" y2="615.00" stroke="#1a1a1a" stroke-width="0.6" />
<line x1="493.78" y1="613.40" x2="493.78" y2="615.00" stroke="#1a1a1a" stroke-width="0.6" />
<line x1="496.07" y1="613.40" x2="496.07" y2="615.00" stroke="#1a1a1a" stroke-width="0.6" />
<line x1="497.95" y1="613.40" x2="497.95" y2="615.00" stroke="#1a1a1a" stroke-width="0.6" />
<line x1="499.53" y1="613.40" x2="499.53" y2="615.00" stroke="#1a1a1a" stroke-width="0.6" />
<line x1="500.91" y1="613.40" x2="500.91" y2="615.00" stroke="#1a1a1a" stroke-width="0.6" />
<line x1="502.12" y1="613.40" x2="502.12" y2="615.00" stroke="#1a1a1a" stroke-width="0.6" />
<line x1="408.50" y1="613.40" x2="408.50" y2="616.40" stroke="#1a1a1a" stroke-width="1.0" />
<text x="0" y="0" font-size="9.6" text-anchor="middle" fill="#1a1a1a" stroke="#1a1a1a" stroke-width="0.12" transform="translate(409.40 626.5) scale(0.97 1)">10<tspan font-size="6.6" dy="-3.6">-1</tspan></text>
<line x1="432.18" y1="613.40" x2="432.18" y2="616.40" stroke="#1a1a1a" stroke-width="1.0" />
<text x="0" y="0" font-size="9.6" text-anchor="middle" fill="#1a1a1a" stroke="#1a1a1a" stroke-width="0.12" transform="translate(433.07 626.5) scale(0.97 1)">10<tspan font-size="6.6" dy="-3.6">0</tspan></text>
<line x1="455.85" y1="613.40" x2="455.85" y2="616.40" stroke="#1a1a1a" stroke-width="1.0" />
<text x="0" y="0" font-size="9.6" text-anchor="middle" fill="#1a1a1a" stroke="#1a1a1a" stroke-width="0.12" transform="translate(456.75 626.5) scale(0.97 1)">10<tspan font-size="6.6" dy="-3.6">1</tspan></text>
<line x1="479.52" y1="613.40" x2="479.52" y2="616.40" stroke="#1a1a1a" stroke-width="1.0" />
<text x="0" y="0" font-size="9.6" text-anchor="middle" fill="#1a1a1a" stroke="#1a1a1a" stroke-width="0.12" transform="translate(480.42 626.5) scale(0.97 1)">10<tspan font-size="6.6" dy="-3.6">2</tspan></text>
<line x1="503.20" y1="613.40" x2="503.20" y2="616.40" stroke="#1a1a1a" stroke-width="1.0" />
<text x="0" y="0" font-size="9.6" text-anchor="middle" fill="#1a1a1a" stroke="#1a1a1a" stroke-width="0.12" transform="translate(504.10 626.5) scale(0.97 1)">10<tspan font-size="6.6" dy="-3.6">3</tspan></text>
<text x="380.40" y="565.70" font-size="10.5" text-anchor="middle" fill="#1a1a1a" textLength="37.8" lengthAdjust="spacingAndGlyphs" transform="rotate(-90 380.4 565.7)" stroke="#1a1a1a" stroke-width="0.18">Cell count</text>
<line x1="401.30" y1="639.40" x2="411.00" y2="639.40" stroke="#000" stroke-width="1.0" />
<path d="M413.3,639.4 L409.5,637.4 L410.3,639.4 L409.5,641.4 Z" fill="#000"/>
<text x="416.30" y="642.60" font-size="10.5" text-anchor="start" fill="#1a1a1a" textLength="26.2" lengthAdjust="spacingAndGlyphs" stroke="#1a1a1a" stroke-width="0.18">CD62L</text>
<rect x="413.3" y="648.2" width="15.4" height="29.8" fill="none" stroke="#111" stroke-width="1.1"/>
<line x1="413.30" y1="663.10" x2="428.70" y2="663.10" stroke="#111" stroke-width="1.0" />
<rect x="416.2" y="651.2" width="9.2" height="9" fill="#8fa2c8" stroke="#3a5591" stroke-width="1"/>
<rect x="416.2" y="666.2" width="9.2" height="9" fill="#d88a9c" stroke="#b3123a" stroke-width="1"/>
<text x="431.60" y="658.70" font-size="9.3" text-anchor="start" fill="#1a1a1a" textLength="36.6" lengthAdjust="spacingAndGlyphs" stroke="#1a1a1a" stroke-width="0.12">Cy + IL-2</text>
<text x="431.60" y="674.00" font-size="9.3" text-anchor="start" fill="#1a1a1a" textLength="66.1" lengthAdjust="spacingAndGlyphs" stroke="#1a1a1a" stroke-width="0.12">Cy + IL-2 + Treg</text>
</svg></body></html>
